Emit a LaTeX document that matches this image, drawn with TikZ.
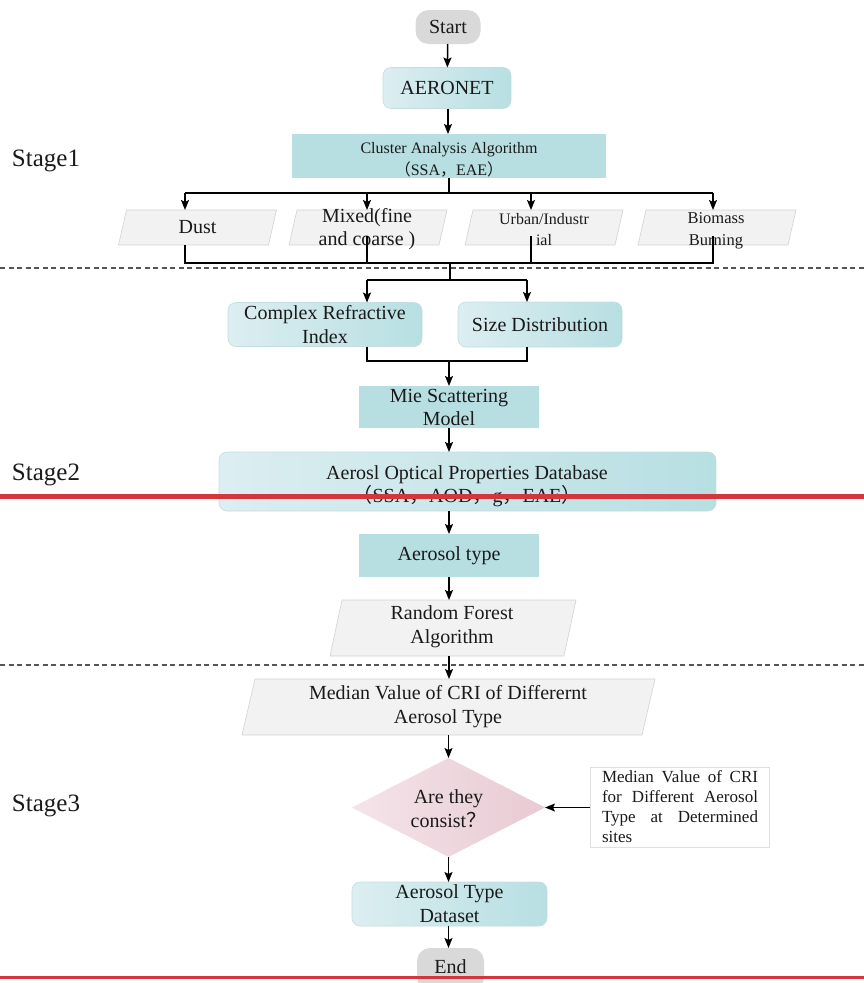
\documentclass[tikz,border=0pt]{standalone}
\usepackage{fontspec}
\setmainfont{Liberation Serif}
\newfontfamily\cjk{Noto Sans CJK SC}
\usetikzlibrary{shapes.geometric,arrows.meta}
\definecolor{tealF}{HTML}{B7DFE2}
\definecolor{tealL}{HTML}{DCEEF1}
\definecolor{tealD}{HTML}{C6DCDE}
\definecolor{grayT}{HTML}{D9D9D9}
\definecolor{paraF}{HTML}{F2F2F2}
\definecolor{paraD}{HTML}{D2D2D2}
\definecolor{pinkL}{HTML}{F4E4E9}
\definecolor{pinkR}{HTML}{E8CAD3}
\definecolor{redL}{HTML}{D3363C}
\definecolor{dashC}{HTML}{555555}
\definecolor{txtC}{HTML}{1A1A1A}
\newcommand{\fsz}[2]{\fontsize{#1}{#2}\selectfont}
\newcommand{\cj}[1]{\smash{\cjk #1}}
\newcommand{\paral}[2]{\filldraw[parashape] ([xshift=#2pt]#1.north west) -- (#1.north east) -- ([xshift=-#2pt]#1.south east) -- (#1.south west) -- cycle;}
\tikzset{
  every node/.style={inner sep=0pt, outer sep=0pt, align=center, font=\fsz{20}{24}, text=txtC},
  term/.style={rounded corners=13pt, fill=grayT, draw=none},
  gbox/.style={rounded corners=8pt, left color=tealL, right color=tealF, draw=tealD, line width=0.6pt},
  tbox/.style={fill=tealF, draw=none},
  parabox/.style={rectangle, draw=none, fill=none},
  parashape/.style={fill=paraF, draw=paraD, line width=0.6pt},
  arr/.style={-{Stealth[length=10pt,width=8pt,inset=2pt]}, line width=1.5pt},
  ln/.style={line width=1.5pt},
  sep/.style={dashC, line width=1.2pt, dash pattern=on 5pt off 3.5pt},
  redrule/.style={redL, line width=#1},
  stagelbl/.style={anchor=base west, font=\fsz{25}{30}}
}
\begin{document}
\begin{tikzpicture}[x=1pt, y=-1pt]
\useasboundingbox (0,0) rectangle (864,983);

% stage labels
\node[stagelbl] (st1) at (12,166) {Stage1};
\node[stagelbl] (st2) at (12,480) {Stage2};
\node[stagelbl] (st3) at (12,811) {Stage3};

% stage 1
\node[term, minimum width=65pt, minimum height=34pt] (start) at (448,27) {Start};
\node[gbox, minimum width=128pt, minimum height=41pt] (aero) at (447,88) {AERONET};
\node[tbox, minimum width=314pt, minimum height=44pt] (clu) at (449,156) {};
\node[font=\fsz{16}{22}] (cluT) at (449,159)
  {Cluster Analysis Algorithm\\\cj{（}SSA\cj{，}EAE\cj{）}};

\node[parabox, minimum width=158pt, minimum height=35pt] (dust) at (197.5,227.5) {};
\paral{dust}{8}
\node (dustT) at (dust) {Dust};
\node[parabox, minimum width=158pt, minimum height=35pt] (mix) at (368,227.5) {};
\paral{mix}{8}
\node[font=\fsz{20}{23}] (mixT) at (367,229) {Mixed(fine\\and coarse )};
\node[parabox, minimum width=158pt, minimum height=35pt] (urb) at (544,227.5) {};
\paral{urb}{8}
\node[font=\fsz{16}{21}] (urbT) at (544,229.5) {Urban/Industr\\ial};
\node[parabox, minimum width=158pt, minimum height=35pt] (bio) at (717,227.5) {};
\paral{bio}{8}
\node[font=\fsz{16.5}{22}] (bioT) at (716,230.5) {Biomass\\Burning};

\draw[arr] (start) -- (aero);
\draw[arr] (aero.south -| start) -- (start |- clu.north);

\coordinate (top) at (449,193);
\coordinate (d1) at (185,193);
\coordinate (d2) at (367,193);
\coordinate (d3) at (531,193);
\coordinate (d4) at (713,193);
\draw[ln] (clu.south) -- (top);
\draw[ln] (d1) -- (d4);
\draw[arr] (d1) -- (d1 |- dust.north);
\draw[arr] (d2) -- (d2 |- mix.north);
\draw[arr] (d3) -- (d3 |- urb.north);
\draw[arr] (d4) -- (d4 |- bio.north);

\coordinate (u1) at (185,263);
\coordinate (u2) at (367,263);
\coordinate (u3) at (531,263);
\coordinate (u4) at (713,263);
\coordinate (um) at (450,263);
\coordinate (jm) at (450,280);
\coordinate (j1) at (367,280);
\coordinate (j2) at (527,280);
\draw[ln] (u1 |- dust.south) -- (u1) -- (u4) -- (713,236);
\draw[ln] (367,236) -- (u2);
\draw[ln] (531,236) -- (u3);
\draw[ln] (um) -- (jm);
\draw[ln] (j1) -- (j2);

% stage 2
\node[gbox, minimum width=194pt, minimum height=44pt] (cri) at (325,324.5) {Complex Refractive\\Index};
\node[gbox, minimum width=164pt, minimum height=45pt] (size) at (540,324.5) {Size Distribution};
\draw[arr] (j1) -- (j1 |- cri.north);
\draw[arr] (j2) -- (j2 |- size.north);

\coordinate (k1) at (367,361);
\coordinate (k2) at (527,361);
\coordinate (km) at (449,361);
\draw[ln] (k1 |- cri.south) -- (k1) -- (k2) -- (k2 |- size.south);

\node[tbox, minimum width=180pt, minimum height=42pt, font=\fsz{20}{23}] (mie) at (449,407) {Mie Scattering\\Model};
\draw[arr] (km) -- (mie.north);

\node[gbox, minimum width=497pt, minimum height=59pt] (db) at (467.5,481.5) {};
\node[font=\fsz{20}{23}] (dbT) at (467,486)
  {Aerosl Optical Properties Database\\\cj{（}SSA\cj{，}AOD\cj{，}g\cj{，}EAE\cj{）}};
\draw[arr] (mie.south) -- (mie.south |- db.north);

\node[tbox, minimum width=180pt, minimum height=43pt] (atype) at (449,555.5) {Aerosol type};
\draw[arr] (atype.north |- db.south) -- (atype.north);

\node[parabox, minimum width=246pt, minimum height=56pt] (rf) at (453,628) {};
\paral{rf}{12}
\node (rfT) at (452,627) {Random Forest\\Algorithm};
\draw[arr] (atype.south) -- (atype.south |- rf.north);

% stage 3
\node[parabox, minimum width=413pt, minimum height=56pt] (med) at (448.5,707) {};
\paral{med}{13}
\node (medT) at (448,707) {Median Value of CRI of Differernt\\Aerosol Type};
\draw[arr] (atype.south |- rf.south) -- (atype.south |- med.north);

\node[diamond, aspect=2, inner sep=1pt, minimum width=193pt, minimum height=99pt,
  left color=pinkL, right color=pinkR, draw=none] (dia) at (448.5,807.5) {};
\node (diaT) at (448.5,809) {Are they\\consist\cj{？}};
\draw[arr] (dia.north |- med.south) -- (dia.north);

\node[draw=black!12, fill=white, minimum width=179pt, minimum height=80pt, line width=0.6pt] (side) at (679.5,807.5) {};
\node[text width=156pt, align=justify, font=\fsz{17}{20}] (sideT) at (680,807)
  {Median Value of CRI\linebreak for Different Aerosol\linebreak Type at Determined\linebreak sites};
\draw[arr] (side.west) -- (dia.east);

\node[gbox, minimum width=195pt, minimum height=44pt] (ds) at (449.5,904) {Aerosol Type\\Dataset};
\draw[arr] (dia.south) -- (dia.south |- ds.north);

\node[term, minimum width=67pt, minimum height=42pt] (end) at (450.5,969) {};
\node (endT) at (450.5,967) {End};
\draw[arr] (dia.south |- ds.south) -- (dia.south |- end.north);

% separators
\coordinate (sl1) at (0,268);
\coordinate (sr1) at (864,268);
\coordinate (sl2) at (0,665);
\coordinate (sr2) at (864,665);
\draw[sep] (sl1) -- (sr1);
\draw[sep] (sl2) -- (sr2);

% red rules
\coordinate (rl1) at (0,496.5);
\coordinate (rr1) at (864,496.5);
\coordinate (rl2) at (0,977.5);
\coordinate (rr2) at (864,977.5);
\draw[redrule=4.5pt] (rl1) -- (rr1);
\draw[redrule=3pt] (rl2) -- (rr2);
\end{tikzpicture}
\end{document}
